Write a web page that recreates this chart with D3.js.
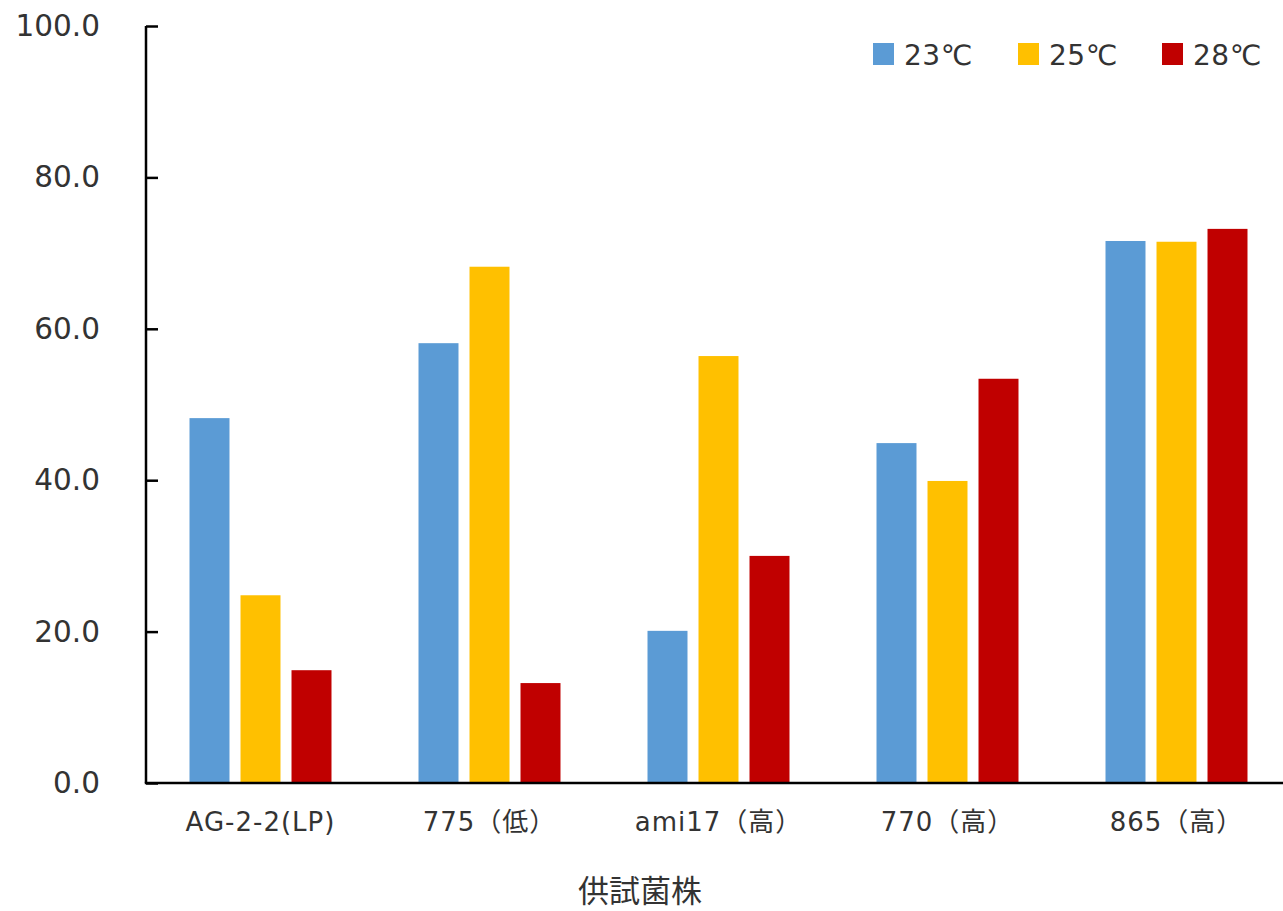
<!DOCTYPE html>
<html><head><meta charset="utf-8">
<script src="https://cdn.jsdelivr.net/npm/d3@7"></script>
<style>body{margin:0;background:#fff;} svg{display:block;}</style>
</head><body>
<svg id="c" width="1283" height="911"></svg>
<script>
const categories = ["AG-2-2(LP)", "775（低）", "ami17（高）", "770（高）", "865（高）"];
const seriesNames = ["23℃", "25℃", "28℃"];
const s23 = [48.2, 58.1, 20.1, 44.9, 71.6];
const s25 = [24.8, 68.2, 56.4, 39.9, 71.5];
const s28 = [14.9, 13.2, 30.0, 53.4, 73.2];
const colors = ["#5b9bd5", "#ffc000", "#c00000"];
const yTicks = [0, 20, 40, 60, 80, 100];
const axisTitle = "供試菌株";

(function(){
const series = [s23, s25, s28];
const svg = d3.select("#c");
const font = "'DejaVu Sans', 'Noto Sans CJK JP', sans-serif";
const cjk = "'Noto Sans CJK JP', sans-serif";
const mLeft = 146, mRight = 1291, mTop = 26, mBottom = 783;

const x0 = d3.scaleBand().domain(categories).range([mLeft, mRight]).paddingInner(0).paddingOuter(0);
const x1 = d3.scaleBand().domain(seriesNames).range([0, x0.bandwidth()]).paddingInner(0.216).paddingOuter(0.853);
const y = d3.scaleLinear().domain([0, 100]).range([mBottom, mTop]);

const g = svg.append("g");
categories.forEach((c, i) => {
  seriesNames.forEach((s, j) => {
    g.append("rect")
      .attr("x", x0(c) + x1(s))
      .attr("y", y(series[j][i]))
      .attr("width", x1.bandwidth())
      .attr("height", y(0) - y(series[j][i]))
      .attr("fill", colors[j]);
  });
});

const yAxis = d3.axisLeft(y).tickValues(yTicks).tickSize(-12).tickPadding(46)
  .tickFormat(d3.format(".1f"));
const ya = svg.append("g").attr("transform", `translate(${mLeft},0)`).call(yAxis);
ya.select(".domain").attr("stroke", "#000").attr("stroke-width", 2.5).attr("d", `M0,${mTop}V${mBottom}`);
ya.selectAll(".tick line").attr("stroke", "#000").attr("stroke-width", 2.5);
ya.selectAll(".tick text").attr("font-family", font).attr("font-size", 29.5).attr("fill", "#333");

const xAxis = d3.axisBottom(x0).tickSize(0).tickPadding(30);
const xa = svg.append("g").attr("transform", `translate(0,${mBottom})`).call(xAxis);
xa.select(".domain").attr("stroke", "#000").attr("stroke-width", 2.5).attr("d", `M${mLeft - 1.2},0H1283`);
xa.selectAll(".tick text").attr("font-family", font).attr("font-size", 26)
  .attr("letter-spacing", "1px").attr("fill", "#333");

svg.append("text").attr("x", 640).attr("y", 902).attr("text-anchor", "middle")
  .attr("font-family", cjk).attr("font-size", 31).attr("fill", "#333").text(axisTitle);

const legX = [873, 1018, 1162];
seriesNames.forEach((s, j) => {
  svg.append("rect").attr("x", legX[j]).attr("y", 43).attr("width", 21).attr("height", 22).attr("fill", colors[j]);
  svg.append("text").attr("x", legX[j] + 31).attr("y", 65)
    .attr("font-family", font).attr("font-size", 28).attr("letter-spacing", "0.5px").attr("fill", "#333").text(s);
});
})();
</script>
</body></html>
